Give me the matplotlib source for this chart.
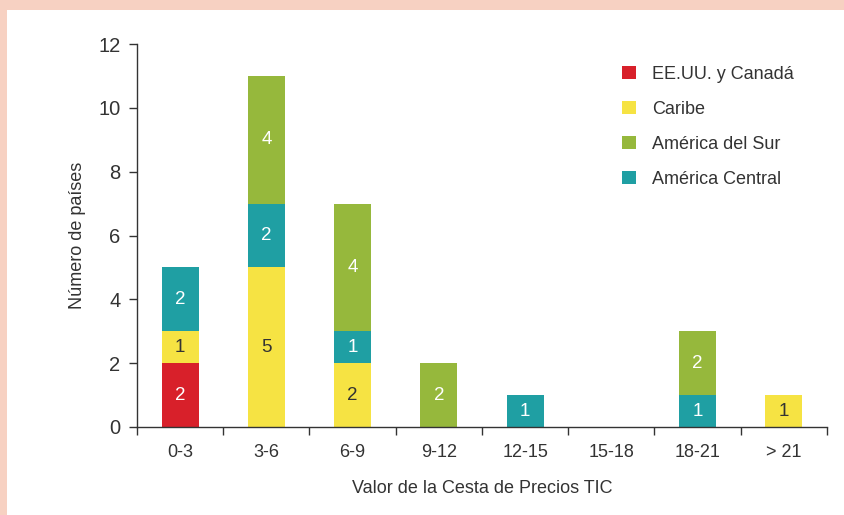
import matplotlib.pyplot as plt
import matplotlib.patches as mpatches
from matplotlib import font_manager
import numpy as np

# --- Data ---
ranges = ['0-3', '3-6', '6-9', '9-12', '12-15', '15-18', '18-21', '> 21']
eeuu_canada = [2, 0, 0, 0, 0, 0, 0, 0]
caribe = [1, 5, 2, 0, 0, 0, 0, 1]
america_central = [2, 2, 1, 0, 1, 0, 1, 0]
america_sur = [0, 4, 4, 2, 0, 0, 2, 0]

# stacking order bottom -> top: (values, label, color, text color)
series = [
    (eeuu_canada, 'EE.UU. y Canadá', '#D8202A', 'white'),
    (caribe, 'Caribe', '#F6E343', '#333333'),
    (america_central, 'América Central', '#1F9FA3', 'white'),
    (america_sur, 'América del Sur', '#96B83C', 'white'),
]
legend_order = ['EE.UU. y Canadá', 'Caribe', 'América del Sur', 'América Central']

# pick a narrow sans if available
names = {f.name for f in font_manager.fontManager.ttflist}
family = ['Liberation Sans Narrow', 'DejaVu Sans'] if 'Liberation Sans Narrow' in names else ['Liberation Sans', 'DejaVu Sans']
plt.rcParams['font.family'] = family
txt = '#333333'

fig = plt.figure(figsize=(8.45, 5.15), dpi=100)
fig.patch.set_facecolor('#F7D1C2')
# white panel inside the peach frame
fig.add_artist(mpatches.Rectangle((7 / 845, 0), 1, 1 - 10 / 515,
                                  transform=fig.transFigure, facecolor='white',
                                  edgecolor='none', zorder=0))

ax = fig.add_axes([137 / 845, 1 - 427 / 515, (827 - 137) / 845, (427 - 44) / 515])
ax.set_facecolor('white')

x = np.arange(len(ranges))
bottom = np.zeros(len(ranges))
handles = {}
for vals, label, color, tcol in series:
    v = np.array(vals, dtype=float)
    bars = ax.bar(x, v, width=0.43, bottom=bottom, color=color, label=label, zorder=2)
    handles[label] = bars
    for xi, b, val in zip(x, bottom, v):
        if val > 0:
            ax.text(xi, b + val / 2, f'{int(val)}', ha='center', va='center',
                    color=tcol, fontsize=13.5, zorder=3)
    bottom += v

ax.set_xlim(-0.5, len(ranges) - 0.5)
ax.set_ylim(0, 12)
ax.set_yticks(range(0, 13, 2))
ax.set_xticks(x)
ax.set_xticklabels(ranges)
ax.set_xticks(np.arange(-0.5, len(ranges)), minor=True)
ax.tick_params(axis='x', which='major', length=0, pad=12, labelsize=13, labelcolor=txt)
ax.tick_params(axis='x', which='minor', length=6, direction='out', color='#333333', width=1)
ax.tick_params(axis='y', length=6, direction='out', color='#333333', width=1,
               pad=6, labelsize=14.5, labelcolor=txt)

for s in ['top', 'right']:
    ax.spines[s].set_visible(False)
for s in ['left', 'bottom']:
    ax.spines[s].set_color('#333333')
    ax.spines[s].set_linewidth(1)

ax.set_ylabel('Número de países', fontsize=13, color=txt, labelpad=9)
ax.set_xlabel('Valor de la Cesta de Precios TIC', fontsize=13, color=txt, labelpad=14)

leg = ax.legend([handles[n] for n in legend_order], legend_order,
                loc='upper left', bbox_to_anchor=(0.68, 0.985), frameon=False,
                fontsize=13, handlelength=0.75, handleheight=0.75,
                handletextpad=0.9, labelspacing=1.0, labelcolor=txt)

fig.savefig('out.png', dpi=100)
